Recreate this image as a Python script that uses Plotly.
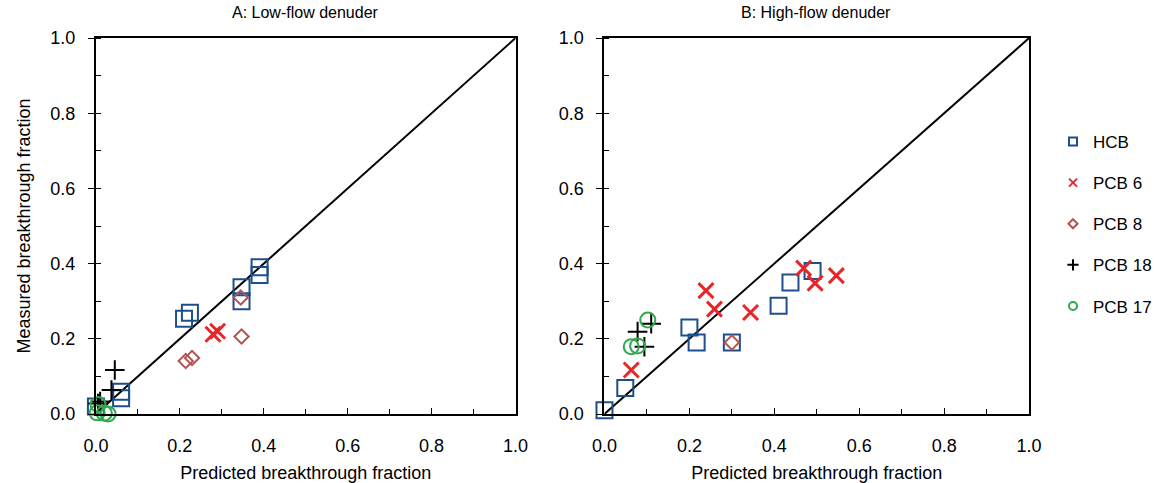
import plotly.graph_objects as go

# ---- Data: Panel A (low-flow denuder) ----
a_hcb_x = [0.00, 0.06, 0.06, 0.21, 0.224, 0.347, 0.347, 0.39, 0.39]
a_hcb_y = [0.02, 0.042, 0.059, 0.253, 0.269, 0.337, 0.30, 0.37, 0.39]
a_pcb6_x = [0.279, 0.29]
a_pcb6_y = [0.212, 0.22]
a_pcb8_x = [0.214, 0.229, 0.345, 0.347]
a_pcb8_y = [0.141, 0.149, 0.31, 0.206]
a_pcb18_x = [0.045, 0.037, 0.01, 0.005]
a_pcb18_y = [0.117, 0.064, 0.033, 0.028]
a_pcb17_x = [0.005, 0.003, 0.029, 0.02]
a_pcb17_y = [0.025, 0.003, 0.0, 0.002]

# ---- Data: Panel B (high-flow denuder) ----
b_hcb_x = [0.0, 0.049, 0.2, 0.217, 0.3, 0.41, 0.438, 0.49]
b_hcb_y = [0.01, 0.069, 0.23, 0.19, 0.19, 0.288, 0.35, 0.38]
b_pcb6_x = [0.063, 0.239, 0.259, 0.344, 0.469, 0.496, 0.546]
b_pcb6_y = [0.117, 0.328, 0.279, 0.27, 0.388, 0.348, 0.368]
b_pcb8_x = [0.3]
b_pcb8_y = [0.19]
b_pcb18_x = [0.078, 0.11, 0.094]
b_pcb18_y = [0.219, 0.24, 0.179]
b_pcb17_x = [0.063, 0.078, 0.102]
b_pcb17_y = [0.179, 0.181, 0.25]

series_names = ["HCB", "PCB 6", "PCB 8", "PCB 18", "PCB 17"]
colors = ["#1F4E8C", "#E8262A", "#B5534F", "#000000", "#2FA84F"]
symbols = ["square-open", "x-thin-open", "diamond-open", "cross-thin-open", "circle-open"]
sizes = [16, 15, 11, 14, 15]
widths = [2, 3, 2, 2, 2]
legend_sizes = [8, 8, 7, 8, 8]

panel_a = [(a_hcb_x, a_hcb_y), (a_pcb6_x, a_pcb6_y), (a_pcb8_x, a_pcb8_y),
           (a_pcb18_x, a_pcb18_y), (a_pcb17_x, a_pcb17_y)]
panel_b = [(b_hcb_x, b_hcb_y), (b_pcb6_x, b_pcb6_y), (b_pcb8_x, b_pcb8_y),
           (b_pcb18_x, b_pcb18_y), (b_pcb17_x, b_pcb17_y)]

fig = go.Figure()

# 1:1 lines
for xa, ya in [("x", "y"), ("x2", "y2")]:
    fig.add_trace(go.Scatter(x=[0, 1], y=[0, 1], mode="lines",
                             line=dict(color="black", width=2),
                             xaxis=xa, yaxis=ya, showlegend=False,
                             hoverinfo="skip"))

for panel, xa, ya in [(panel_a, "x", "y"), (panel_b, "x2", "y2")]:
    for i, (xs, ys) in enumerate(panel):
        fig.add_trace(go.Scatter(
            x=xs, y=ys, mode="markers", name=series_names[i],
            legendgroup=series_names[i],
            marker=dict(symbol=symbols[i], size=sizes[i], color=colors[i],
                        line=dict(color=colors[i], width=widths[i])),
            xaxis=xa, yaxis=ya, showlegend=False, cliponaxis=False))

# legend-only entries with small symbols, as in the reference
for i, name in enumerate(series_names):
    fig.add_trace(go.Scatter(
        x=[None], y=[None], mode="markers", name=name, legendgroup=name,
        marker=dict(symbol=symbols[i], size=legend_sizes[i], color=colors[i],
                    line=dict(color=colors[i], width=2)),
        xaxis="x2", yaxis="y2", showlegend=True))

font_family = "Liberation Sans, Arial, sans-serif"

xcommon = dict(range=[0, 1], dtick=0.2, tickformat=".1f", showgrid=False,
               zeroline=False, showline=True, linecolor="black", linewidth=2,
               mirror=True, ticks="inside", ticklen=6, tickcolor="black",
               minor=dict(dtick=0.1, ticks="inside", ticklen=5, tickcolor="black"),
               tickfont=dict(size=18, color="black"), ticklabelstandoff=14,
               automargin=False,
               title=dict(text="Predicted breakthrough fraction",
                          font=dict(size=18, color="black")))
ycommon = dict(range=[0, 1], dtick=0.2, tickformat=".1f", showgrid=False,
               zeroline=False, showline=True, linecolor="black", linewidth=2,
               mirror=True, ticks="outside", ticklen=6, tickcolor="black",
               minor=dict(dtick=0.1, ticks="inside", ticklen=5, tickcolor="black"),
               tickfont=dict(size=18, color="black"), ticklabelstandoff=9,
               automargin=False)

fig.update_layout(
    width=1157, height=483,
    margin=dict(l=0, r=0, t=0, b=0),
    paper_bgcolor="white", plot_bgcolor="white",
    font=dict(family=font_family, color="black"),
    xaxis=dict(domain=[96/1157, 516/1157], anchor="y", **xcommon),
    yaxis=dict(domain=[69/483, 445/483], anchor="x",
               title=dict(text="Measured breakthrough fraction",
                          font=dict(size=18, color="black")),
               **ycommon),
    xaxis2=dict(domain=[605/1157, 1030/1157], anchor="y2", **xcommon),
    yaxis2=dict(domain=[69/483, 445/483], anchor="x2", **ycommon),
    legend=dict(x=1054/1157, y=1 - 124/483, xanchor="left", yanchor="top",
                font=dict(size=17, color="black"), tracegroupgap=16,
                itemsizing="trace", bgcolor="rgba(0,0,0,0)",
                itemwidth=30),
    annotations=[
        dict(text="A: Low-flow denuder", x=306/1157, y=1 - 13/483,
             xref="paper", yref="paper", showarrow=False,
             xanchor="center", yanchor="middle",
             font=dict(size=16, color="black")),
        dict(text="B: High-flow denuder", x=817/1157, y=1 - 13/483,
             xref="paper", yref="paper", showarrow=False,
             xanchor="center", yanchor="middle",
             font=dict(size=16, color="black")),
    ],
)

fig.write_html("out.html", config={"displayModeBar": False},
               post_script="document.body.style.margin='0px';document.body.style.overflow='hidden';")
